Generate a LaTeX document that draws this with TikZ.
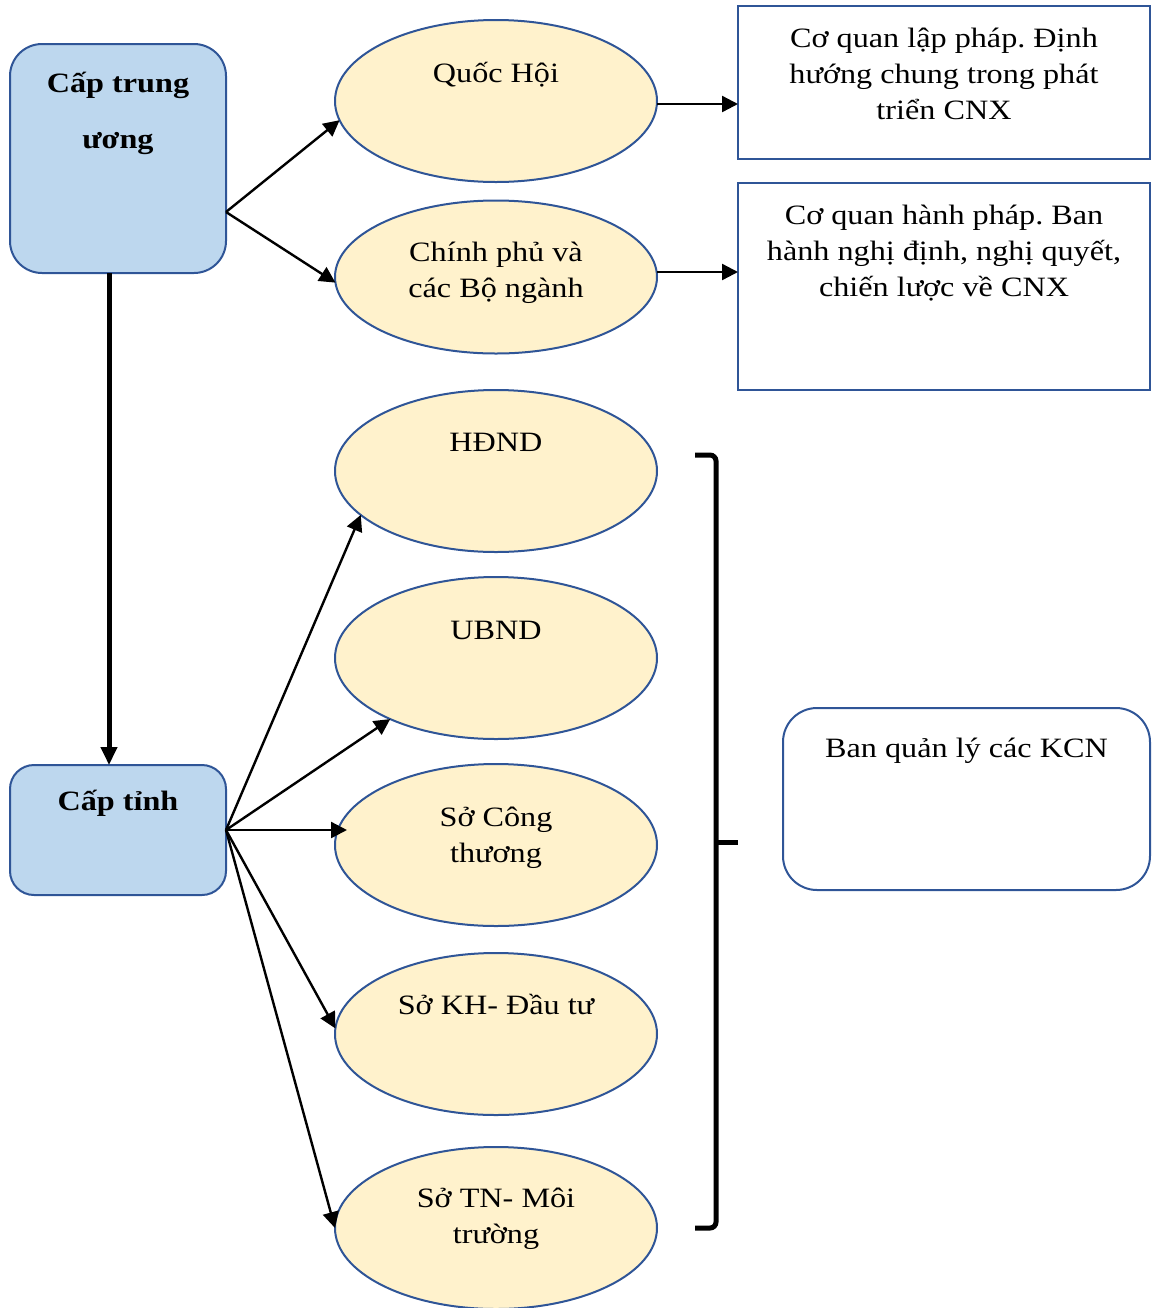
\documentclass[tikz,border=0pt]{standalone}
\usepackage{fontspec}
\setmainfont{Liberation Serif}[FakeStretch=1.15]
\usetikzlibrary{shapes.geometric}
\usetikzlibrary{arrows.meta}
\definecolor{bordure}{HTML}{2F5597}
\definecolor{bleu}{HTML}{BDD7EE}
\definecolor{creme}{HTML}{FFF2CC}
\frenchspacing

\begin{document}
\begin{tikzpicture}[x=0.5pt,y=-0.5pt,line width=1pt,
  ovale/.style={ellipse,draw=bordure,fill=creme,minimum width=161pt,minimum height=81pt,outer sep=0pt},
  niveau/.style={rectangle,rounded corners=16pt,draw=bordure,fill=bleu,minimum width=108pt,outer sep=0pt},
  cadre/.style={rectangle,draw=bordure,minimum width=206pt,outer sep=0pt},
  texte/.style={align=center,anchor=base,font=\fontsize{14}{18}\selectfont},
  gras/.style={texte,font=\fontsize{14}{28}\selectfont\bfseries},
  fleche/.style={line width=1.2pt,-{Triangle[length=8pt,width=8pt]}}]
  \useasboundingbox (0,0) rectangle (1155,1308);
  % niveaux
  \node[niveau,minimum height=114.5pt] (tw) at (118,158.5) {};
  \node[gras] (tw-txt) at (118,148) {Cấp trung\\ương};
  \node[niveau,minimum height=65pt,rounded corners=12pt] (tinh) at (118,830) {};
  \node[gras] (tinh-txt) at (118,810) {Cấp tỉnh};
  % organes
  \node[ovale] (qh) at (496,101) {};
  \node[texte] (qh-txt) at (496,82) {Quốc Hội};
  \node[ovale,minimum height=76.5pt] (cp) at (496,277) {};
  \node[texte] (cp-txt) at (496,297) {Chính phủ và\\các Bộ ngành};
  \node[ovale] (hd) at (496,471) {};
  \node[texte] (hd-txt) at (496,451) {HĐND};
  \node[ovale] (ub) at (496,658) {};
  \node[texte] (ub-txt) at (496,639) {UBND};
  \node[ovale] (sct) at (496,845) {};
  \node[texte] (sct-txt) at (496,862) {Sở Công\\thương};
  \node[ovale] (skh) at (496,1034) {};
  \node[texte] (skh-txt) at (496,1014) {Sở KH- Đầu tư};
  \node[ovale] (stn) at (496,1228) {};
  \node[texte] (stn-txt) at (496,1243) {Sở TN- Môi\\trường};
  % roles
  \node[cadre,minimum height=76.5pt] (lp) at (944,82.5) {};
  \node[texte] (lp-txt) at (944,119) {Cơ quan lập pháp. Định\\hướng chung trong phát\\triển CNX};
  \node[cadre,minimum height=103.5pt] (hp) at (944,286.5) {};
  \node[texte] (hp-txt) at (944,296) {Cơ quan hành pháp. Ban\\hành nghị định, nghị quyết,\\chiến lược về CNX};
  \node[rectangle,rounded corners=17pt,draw=bordure,minimum width=183.5pt,minimum height=91pt] (bql) at (966.5,799) {};
  \node[texte] (bql-txt) at (966.5,757) {Ban quản lý các KCN};
  % fleches
  \coordinate (tw-out) at (226,212);
  \draw[fleche] (tw-out) -- (qh.187);
  \draw[fleche] (tw-out) -- (cp.182);
  \draw[fleche] ([yshift=-1.5pt]qh.east) -- ([yshift=-1.5pt]qh.east -| lp.west);
  \draw[fleche] ([yshift=2.5pt]cp.east) -- ([yshift=2.5pt]cp.east -| hp.west);
  \draw[line width=2.5pt,-{Triangle[length=9pt,width=8pt]}] ([xshift=-4.5pt]tw.south) -- ([xshift=-4.5pt]tinh.north);
  \draw[fleche] (tinh.east) -- ([xshift=6pt]tinh.east -| sct.west);
  \foreach \cible/\ang in {hd/198,ub/210,skh/178,stn/180}
    \draw[fleche] (tinh.east) -- (\cible.\ang);
  % accolade
  \draw[line width=2.5pt,rounded corners=3pt] (695,455) -- (716,455) -- (716,1228) -- (695,1228);
  \draw[line width=2.5pt] (716,842) -- (738,842);
\end{tikzpicture}
\end{document}
